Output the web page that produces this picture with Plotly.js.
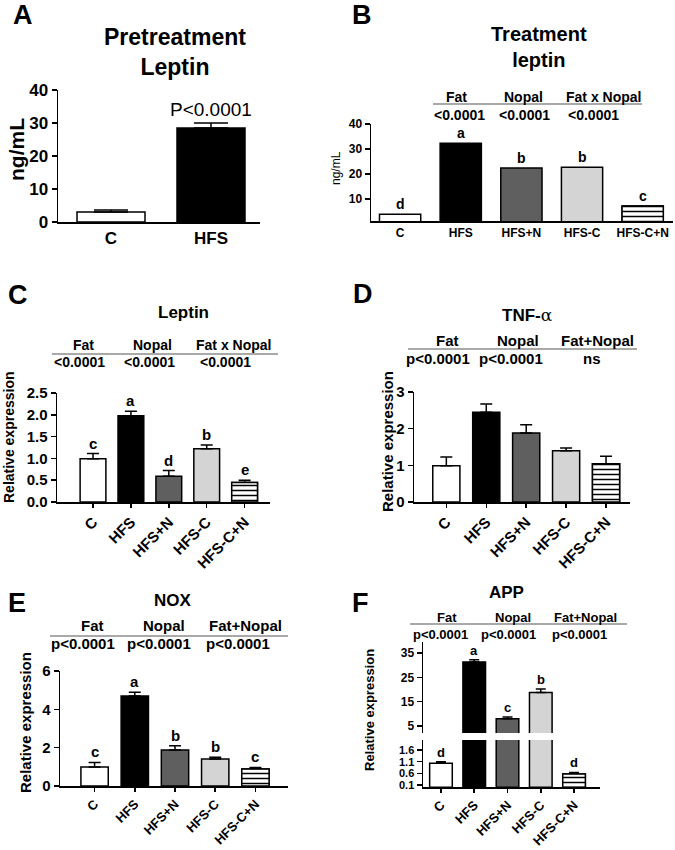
<!DOCTYPE html>
<html><head><meta charset="utf-8">
<script src="https://cdn.plot.ly/plotly-3.0.1.min.js"></script>
<style>body{margin:0;background:#fff}#chart{width:675px;height:850px}</style>
</head><body><div id="chart"></div>
<script>
// ---------------- data ----------------
const groupsA = ['C', 'HFS'];
const groups5 = ['C', 'HFS', 'HFS+N', 'HFS-C', 'HFS-C+N'];
const fillA = ['#ffffff', '#000000'];
const fill5 = ['#ffffff', '#000000', '#5f5f5f', '#d4d4d4', '#ffffff'];
const striped5 = [false, false, false, false, true];

// A: pretreatment leptin (ng/mL)
const preLeptinMean = [3.0, 28.5];
const preLeptinErr = [0.6, 1.5];
const preLeptinP = 'P<0.0001';

// B: treatment leptin (ng/mL)
const trtLeptinMean = [3.9, 32.3, 22.4, 22.7, 7.2];
const trtLeptinLetters = ['d', 'a', 'b', 'b', 'c'];
const effectsB = ['Fat', 'Nopal', 'Fat x Nopal'];
const pvalsB = ['<0.0001', '<0.0001', '<0.0001'];

// C: leptin relative expression
const leptinMean = [0.99, 1.98, 0.59, 1.22, 0.45];
const leptinErr = [0.12, 0.10, 0.13, 0.09, 0.05];
const leptinLetters = ['c', 'a', 'd', 'b', 'e'];
const effectsC = ['Fat', 'Nopal', 'Fat x Nopal'];
const pvalsC = ['<0.0001', '<0.0001', '<0.0001'];

// D: TNF-alpha relative expression
const tnfMean = [0.99, 2.45, 1.88, 1.40, 1.04];
const tnfErr = [0.24, 0.22, 0.23, 0.07, 0.21];
const effectsD = ['Fat', 'Nopal', 'Fat+Nopal'];
const pvalsD = ['p<0.0001', 'p<0.0001', 'ns'];

// E: NOX relative expression
const noxMean = [0.99, 4.70, 1.88, 1.41, 0.89];
const noxErr = [0.24, 0.19, 0.22, 0.09, 0.08];
const noxLetters = ['c', 'a', 'b', 'b', 'c'];
const effectsE = ['Fat', 'Nopal', 'Fat+Nopal'];
const pvalsE = ['p<0.0001', 'p<0.0001', 'p<0.0001'];

// F: APP relative expression (broken axis)
const appMean = [1.03, 31.3, 8.0, 18.8, 0.57];
const appErr = [0.07, 0.9, 0.7, 1.4, 0.07];
const appLetters = ['d', 'a', 'c', 'b', 'd'];
const effectsF = ['Fat', 'Nopal', 'Fat+Nopal'];
const pvalsF = ['p<0.0001', 'p<0.0001', 'p<0.0001'];

// tick values
const ticksA = [0, 10, 20, 30, 40];
const ticksB = [10, 20, 30, 40];
const ticksC = [0, 0.5, 1.0, 1.5, 2.0, 2.5];
const ticksD = [0, 1, 2, 3];
const ticksE = [0, 2, 4, 6];
const ticksFUpper = [5, 15, 25, 35];
const ticksFLower = [0.1, 0.6, 1.1, 1.6];

// ---------------- helpers ----------------
const W = 675, H = 850;
const FONT = 'Liberation Sans, Arial, sans-serif';
const px = x => x / W, py = y => 1 - y / H;
const xdom = (a, b) => [a / W, b / W];
const ydom = (top, bottom) => [1 - bottom / H, 1 - top / H];

function bars(xa, ya, cats, mean, err, colors, capw) {
  const t = {
    type: 'bar', x: cats, y: mean, xaxis: xa, yaxis: ya, width: 0.68,
    marker: { color: colors, line: { color: '#000', width: 1.5 } },
    showlegend: false, hoverinfo: 'skip'
  };
  if (err) {
    t.error_y = { type: 'data', symmetric: false, array: err, arrayminus: err.map(() => 0),
      color: '#000', thickness: 1.5, width: capw || 6 };
  }
  return t;
}
// overlay with horizontal-line pattern for the striped group
function stripes(xa, ya, cats, mean, flags) {
  return {
    type: 'bar', x: cats, y: mean.map((v, i) => flags[i] ? v : null), xaxis: xa, yaxis: ya, width: 0.68,
    marker: { color: '#ffffff', line: { color: '#000', width: 1.5 },
      pattern: { shape: '-', fgcolor: '#000000', bgcolor: '#ffffff', size: 5, solidity: 0.3, fillmode: 'replace' } },
    showlegend: false, hoverinfo: 'skip'
  };
}

function yax(dom, range, tickvals, size, anchor, fmt) {
  return {
    domain: dom, range: range, anchor: anchor, tickvals: tickvals, tickformat: fmt || '',
    showline: true, linecolor: '#000', linewidth: 1.5, showgrid: false, zeroline: false,
    ticks: 'outside', ticklen: 5, tickwidth: 1.5, tickcolor: '#000',
    tickfont: { size: size, weight: 'bold', color: '#000' }, fixedrange: true
  };
}
function xax(dom, range, size, anchor, angle, ticks) {
  return {
    domain: dom, range: range, anchor: anchor, type: 'category', tickangle: angle,
    showline: true, linecolor: '#000', linewidth: 1.5, showgrid: false, zeroline: false,
    ticks: ticks ? 'outside' : '', ticklen: 4, tickwidth: 1.5, tickcolor: '#000',
    tickfont: { size: size, weight: 'bold', color: '#000' }, fixedrange: true
  };
}

const annotations = [];
const shapes = [];
function txt(x, y, text, size, bold, extra) {
  annotations.push(Object.assign({
    xref: 'paper', yref: 'paper', x: px(x), y: py(y), text: text, showarrow: false,
    xanchor: 'center', yanchor: 'middle',
    font: { family: FONT, size: size, color: '#000', weight: bold ? 'bold' : 'normal' }
  }, extra || {}));
}
function letters(xa, ya, mean, err, labels, size, keep) {
  labels.forEach((l, i) => {
    if (keep && !keep(i)) return;
    annotations.push({
      xref: xa, yref: ya, x: i, y: mean[i] + (err ? err[i] : 0), text: l, showarrow: false,
      xanchor: 'center', yanchor: 'bottom', yshift: 0,
      font: { family: FONT, size: size, color: '#000', weight: 'bold' }
    });
  });
}
function header(effects, pvals, labX, labY, valX, valY, lineX0, lineX1, lineY, size) {
  effects.forEach((e, i) => txt(labX[i], labY, e, size, true));
  pvals.forEach((p, i) => txt(valX[i], valY, p, size, true));
  shapes.push({ type: 'line', xref: 'paper', yref: 'paper', x0: px(lineX0), x1: px(lineX1),
    y0: py(lineY), y1: py(lineY), line: { color: '#555', width: 1.2 } });
}

// ---------------- traces ----------------
const data = [
  bars('x', 'y', groupsA, preLeptinMean, preLeptinErr, fillA, 17),
  bars('x2', 'y2', groups5, trtLeptinMean, null, fill5),
  stripes('x2', 'y2', groups5, trtLeptinMean, striped5),
  bars('x3', 'y3', groups5, leptinMean, leptinErr, fill5, 6),
  stripes('x3', 'y3', groups5, leptinMean, striped5),
  bars('x4', 'y4', groups5, tnfMean, tnfErr, fill5, 6),
  stripes('x4', 'y4', groups5, tnfMean, striped5),
  bars('x5', 'y5', groups5, noxMean, noxErr, fill5, 6),
  stripes('x5', 'y5', groups5, noxMean, striped5),
  bars('x6', 'y6', groups5, appMean, appErr, fill5, 5),
  stripes('x6', 'y6', groups5, appMean, striped5),
  bars('x6', 'y7', groups5, appMean, appErr, fill5, 5)
];

// ---------------- panel text ----------------
// A
txt(23, 15, 'A', 27, true);
txt(175, 52, 'Pretreatment<br>Leptin', 23, true);
txt(16, 150, 'ng/mL', 21, true, { textangle: -90 });
annotations.push({ xref: 'x', yref: 'y', x: 1, y: preLeptinMean[1] + preLeptinErr[1], text: preLeptinP,
  showarrow: false, yanchor: 'bottom', yshift: 1, font: { family: FONT, size: 19, color: '#000' } });
// B
txt(362, 15, 'B', 27, true);
txt(539, 47, 'Treatment<br>leptin', 20, true);
txt(336, 168, 'ng/mL', 12, false, { textangle: -90 });
header(effectsB, pvalsB, [456, 523, 603], 97, [459, 524, 593], 115, 433, 642, 104, 14);
letters('x2', 'y2', trtLeptinMean, null, trtLeptinLetters, 14);
// C
txt(18, 295, 'C', 27, true);
txt(183, 313, 'Leptin', 17, true);
txt(9, 437, 'Relative expression', 14, true, { textangle: -90 });
header(effectsC, pvalsC, [83, 152, 233], 345, [79, 149, 226], 362, 52, 278, 354, 14);
letters('x3', 'y3', leptinMean, leptinErr, leptinLetters, 15);
// D
txt(363, 294, 'D', 27, true);
txt(527, 315, 'TNF-<span style="font-family:DejaVu Serif;font-weight:normal">α</span>', 17, true);
txt(387, 442, 'Relative expression', 15, true, { textangle: -90 });
header(effectsD, pvalsD, [447, 518, 597], 340, [438, 511, 592], 358, 408, 637, 349, 15);
// E
txt(17, 603, 'E', 27, true);
txt(173, 600, 'NOX', 17, true);
txt(25, 723, 'Relative expression', 15, true, { textangle: -90 });
header(effectsE, pvalsE, [92, 164, 245], 625, [83, 159, 238], 643, 50, 288, 636, 15);
letters('x5', 'y5', noxMean, noxErr, noxLetters, 15);
// F
txt(360, 603, 'F', 27, true);
txt(506, 592, 'APP', 17, true);
txt(369, 710, 'Relative expression', 13, true, { textangle: -90 });
header(effectsF, pvalsF, [447, 513, 585], 617, [440, 508, 579], 634, 410, 627, 624, 13);
const fLowerMax = 2.03;
letters('x6', 'y7', appMean, appErr, appLetters, 13, i => appMean[i] > fLowerMax);
letters('x6', 'y6', appMean, appErr, appLetters, 13, i => appMean[i] <= fLowerMax);

// ---------------- layout ----------------
const layout = {
  width: W, height: H, margin: { l: 0, r: 0, t: 0, b: 0 },
  paper_bgcolor: '#fff', plot_bgcolor: 'rgba(0,0,0,0)',
  font: { family: FONT, color: '#000' },
  showlegend: false, bargap: 0, barmode: 'overlay',
  xaxis: xax(xdom(58, 260), [-0.53, 1.49], 17, 'y', 0, false),
  yaxis: yax(ydom(90, 222), [0, 40], ticksA, 17, 'x'),
  xaxis2: xax(xdom(371, 673), [-0.48, 4.5], 12, 'y2', 0, false),
  yaxis2: yax(ydom(124, 221), [1.2, 40], ticksB, 12, 'x2'),
  xaxis3: xax(xdom(57, 270), [-0.95, 4.67], 15, 'y3', -45, true),
  yaxis3: yax(ydom(393, 502), [0, 2.5], ticksC, 15, 'x3', '.1f'),
  xaxis4: xax(xdom(414, 630), [-0.81, 4.6], 15, 'y4', -45, true),
  yaxis4: yax(ydom(392, 502), [0, 3], ticksD, 15, 'x4'),
  xaxis5: xax(xdom(60, 288), [-0.86, 4.81], 13, 'y5', -45, true),
  yaxis5: yax(ydom(671, 786), [0, 6], ticksE, 15, 'x5'),
  xaxis6: xax(xdom(423, 600), [-0.54, 4.78], 13, 'y6', -45, true),
  yaxis6: yax(ydom(740, 787), [0.014, fLowerMax], ticksFLower, 11, 'x6', '.1f'),
  yaxis7: yax(ydom(642, 733), [2.12, 39.5], ticksFUpper, 12, 'x6'),
  annotations: annotations,
  shapes: shapes
};

Plotly.newPlot('chart', data, layout, { staticPlot: true, displayModeBar: false });
</script>
</body></html>
